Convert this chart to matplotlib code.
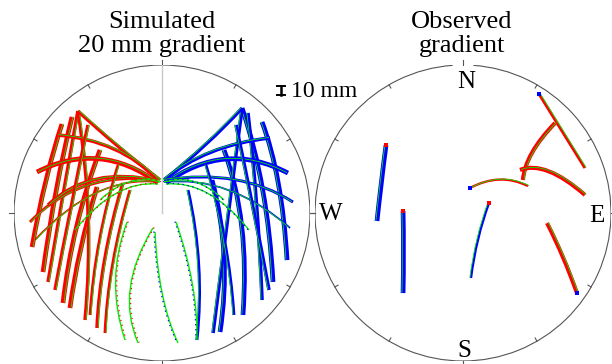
import numpy as np
import matplotlib
matplotlib.use('Agg')
import matplotlib.pyplot as plt
from matplotlib.path import Path
from matplotlib.patches import PathPatch, Arc
import matplotlib.transforms as mtransforms

plt.rcParams['font.family'] = ['Liberation Serif', 'DejaVu Serif']

# --- данные: треки на единичной проекции (начало, изгиб, конец) ---
sim_red_start = [(-0.676, 0.601), (-0.608, 0.649), (-0.568, 0.689), (-0.419, 0.426),
                 (-0.439, 0.176), (-0.568, 0.689), (-0.264, 0.203), (-0.216, 0.155),
                 (-0.845, 0.277), (-0.568, 0.689), (-0.709, 0.527), (-0.892, -0.061),
                 (-0.858, -0.182), (-0.770, 0.054), (-0.500, 0.595), (-0.297, 0.324),
                 (-0.236, -0.061), (-0.061, -0.101), (-0.419, 0.088), (-0.588, -0.115)]
sim_red_bend = [(-0.791, 0.257), (-0.723, 0.189), (-0.676, 0.088), (-0.608, -0.081),
                (-0.568, -0.250), (-0.453, -0.014), (-0.419, -0.318), (-0.365, -0.351),
                (-0.419, 0.493), (-0.318, 0.459), (-0.284, 0.493), (-0.554, 0.291),
                (-0.453, 0.257), (-0.486, 0.324), (-0.622, 0.020), (-0.453, -0.182),
                (-0.385, -0.453), (-0.318, -0.520), (-0.216, 0.277), (-0.318, 0.223)]
sim_red_end = [(-0.878, -0.230), (-0.804, -0.399), (-0.770, -0.466), (-0.669, -0.608),
               (-0.622, -0.642), (-0.520, -0.723), (-0.439, -0.777), (-0.385, -0.811),
               (-0.027, 0.203), (-0.014, 0.223), (-0.027, 0.223), (-0.027, 0.223),
               (-0.027, 0.209), (-0.027, 0.216), (-0.723, -0.520), (-0.486, -0.689),
               (-0.250, -0.858), (-0.162, -0.878), (-0.014, 0.209), (-0.027, 0.196)]
sim_red_weight = [4, 4, 3, 4, 4, 3, 3, 2.5, 4, 3, 3, 2.5, 1.5, 3, 3, 2.5, 1, 1, 1, 1]

sim_blue_start = [(0.676, 0.615), (0.541, 0.709), (0.581, 0.676), (0.419, 0.426),
                  (0.338, 0.223), (0.541, 0.709), (0.176, 0.155), (0.851, 0.270),
                  (0.541, 0.709), (0.730, 0.507), (0.885, 0.074), (0.865, -0.101),
                  (0.500, 0.595), (0.297, 0.324),
                  (-0.047, -0.128), (0.095, -0.061), (0.419, 0.088), (0.588, -0.115)]
sim_blue_bend = [(0.811, 0.257), (0.716, 0.189), (0.649, 0.088), (0.595, -0.047),
                 (0.473, -0.284), (0.446, -0.014), (0.291, -0.351), (0.426, 0.493),
                 (0.311, 0.459), (0.291, 0.459), (0.527, 0.304), (0.459, 0.257),
                 (0.622, 0.020), (0.453, -0.182),
                 (-0.027, -0.588), (0.243, -0.486), (0.216, 0.277), (0.318, 0.223)]
sim_blue_end = [(0.845, -0.318), (0.750, -0.466), (0.676, -0.588), (0.547, -0.689),
                (0.392, -0.804), (0.345, -0.811), (0.236, -0.858), (0.027, 0.203),
                (0.014, 0.223), (0.014, 0.223), (0.014, 0.223), (0.014, 0.209),
                (0.723, -0.520), (0.486, -0.689),
                (0.108, -0.878), (0.236, -0.858), (0.014, 0.209), (0.027, 0.196)]
sim_blue_weight = [4, 4, 3, 4, 4, 3, 2.5, 4, 3, 3, 2.5, 1.5, 3, 2.5, 1, 1, 1, 1]

obs_start = [(-0.520, 0.459), (-0.405, 0.014), (0.176, 0.068), (0.568, -0.068),
             (0.514, 0.804), (0.622, 0.608), (0.385, 0.291), (0.047, 0.169)]
obs_bend = [(-0.554, 0.203), (-0.399, -0.264), (0.088, -0.169), (0.682, -0.291),
            (0.669, 0.554), (0.419, 0.399), (0.554, 0.358), (0.250, 0.277)]
obs_end = [(-0.581, -0.054), (-0.405, -0.541), (0.054, -0.439), (0.770, -0.541),
           (0.824, 0.304), (0.405, 0.223), (0.824, 0.122), (0.439, 0.182)]
obs_color = ['blue', 'blue', 'blue', 'red', 'red', 'red', 'red', 'red']
obs_weight = [4, 4, 2, 3.5, 2.5, 3.5, 3.5, 2]
# цвет кончика трека (у начала / у конца)
obs_tip_start = ['red', 'red', 'red', None, 'blue', None, None, 'blue']
obs_tip_end = [None, None, None, 'blue', None, None, None, None]

COLORS = {'red': '#ff0000', 'blue': '#0000ff'}
FIT = '#00ee00'
FRAME = '#555555'

fig = plt.figure(figsize=(6.12, 3.64), dpi=100)
W, H = 612.0, 364.0
R = 148.0
ax_sim = fig.add_axes([(162 - R) / W, (H - 213 - R) / H, 2 * R / W, 2 * R / H])
ax_obs = fig.add_axes([(463 - R) / W, (H - 213 - R) / H, 2 * R / W, 2 * R / H])


def draw_track(ax, p0, pc, p1, color, weight):
    path = Path([p0, pc, p1], [Path.MOVETO, Path.CURVE3, Path.CURVE3])
    dx = -0.8 if color == COLORS['blue'] else 0.8
    shift = mtransforms.offset_copy(ax.transData, fig=fig, x=dx, y=0.3, units='points')
    if weight <= 1:
        ax.add_patch(PathPatch(path, fill=False, edgecolor=FIT, lw=1.0))
        ax.add_patch(PathPatch(path, fill=False, edgecolor=color, lw=0.9,
                               linestyle=(0, (1, 3)), transform=shift))
        return
    ax.add_patch(PathPatch(path, fill=False, edgecolor=color, lw=weight * 0.85,
                           capstyle='butt'))
    ax.add_patch(PathPatch(path, fill=False, edgecolor=FIT, lw=0.6, transform=shift))


def draw_frame(ax, north_gap=False):
    if north_gap:
        ax.add_patch(Arc((0, 0), 2, 2, theta1=94, theta2=446, color=FRAME, lw=0.8))
    else:
        ax.add_patch(Arc((0, 0), 2, 2, theta1=0, theta2=360, color=FRAME, lw=0.8))
    for ang in range(0, 360, 30):
        a = np.deg2rad(ang)
        if ang % 90 == 0:
            r0, r1 = 1.0, 1.035
        else:
            r0, r1 = 0.975, 1.0
        ax.plot([r0 * np.cos(a), r1 * np.cos(a)], [r0 * np.sin(a), r1 * np.sin(a)],
                color=FRAME, lw=0.8, clip_on=False)
    ax.set_xlim(-1, 1)
    ax.set_ylim(-1, 1)
    ax.set_aspect('equal')
    ax.axis('off')


# --- левая панель: моделирование ---
draw_frame(ax_sim)
ax_sim.plot([0, 0], [0, 1], color='#c8c8c8', lw=1.0)
for p0, pc, p1, w in zip(sim_red_start, sim_red_bend, sim_red_end, sim_red_weight):
    draw_track(ax_sim, p0, pc, p1, COLORS['red'], w)
for p0, pc, p1, w in zip(sim_blue_start, sim_blue_bend, sim_blue_end, sim_blue_weight):
    draw_track(ax_sim, p0, pc, p1, COLORS['blue'], w)

# масштабная черта 10 мм
ax_sim.plot([0.804, 0.804], [0.797, 0.858], color='black', lw=1.8, clip_on=False)
ax_sim.plot([0.780, 0.828], [0.858, 0.858], color='black', lw=1.4, clip_on=False)
ax_sim.plot([0.780, 0.828], [0.797, 0.797], color='black', lw=1.4, clip_on=False)
fig.text(291 / W, 1 - 97 / H, '10 mm', ha='left', va='baseline', fontsize=17)

# --- правая панель: наблюдение ---
draw_frame(ax_obs, north_gap=True)
for i in range(len(obs_start)):
    draw_track(ax_obs, obs_start[i], obs_bend[i], obs_end[i],
               COLORS[obs_color[i]], obs_weight[i])
    if obs_tip_start[i]:
        ax_obs.scatter(*obs_start[i], s=8, color=COLORS[obs_tip_start[i]],
                       marker='s', lw=0, zorder=3)
    if obs_tip_end[i]:
        ax_obs.scatter(*obs_end[i], s=8, color=COLORS[obs_tip_end[i]],
                       marker='s', lw=0, zorder=3)

ax_obs.text(0.02, 0.845, 'N', ha='center', va='baseline', fontsize=18)
ax_obs.text(0.007, -0.973, 'S', ha='center', va='baseline', fontsize=18)
ax_obs.text(-0.892, -0.047, 'W', ha='center', va='baseline', fontsize=18)
ax_obs.text(0.905, -0.061, 'E', ha='center', va='baseline', fontsize=18)

# заголовки
fig.text(162 / W, 1 - 28 / H, 'Simulated', ha='center', va='baseline', fontsize=19)
fig.text(162 / W, 1 - 52 / H, '20 mm gradient', ha='center', va='baseline', fontsize=19)
fig.text(462 / W, 1 - 28 / H, 'Observed', ha='center', va='baseline', fontsize=19)
fig.text(462 / W, 1 - 52 / H, 'gradient', ha='center', va='baseline', fontsize=19)

fig.savefig('out.png', dpi=100)
